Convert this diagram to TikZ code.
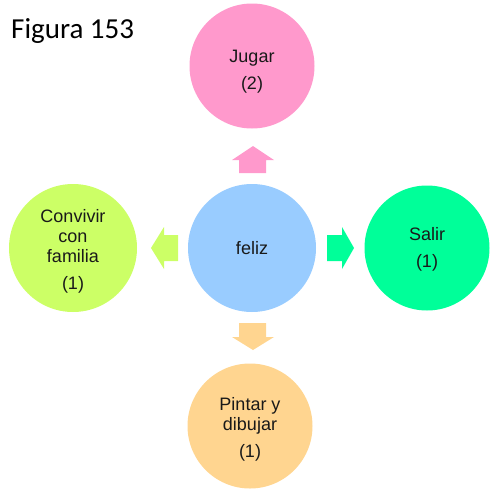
\documentclass[tikz,border=0pt]{standalone}
\usepackage{fontspec}
\setmainfont{Liberation Sans}
\newfontfamily\titlefont{Carlito}
\definecolor{cpink}{HTML}{FF99CC}
\definecolor{cblue}{HTML}{99CCFF}
\definecolor{clime}{HTML}{CCFF66}
\definecolor{cgreen}{HTML}{00FF99}
\definecolor{corange}{HTML}{FFD590}
\begin{document}
\begin{tikzpicture}[x=1pt,y=-1pt,
  bubble/.style={circle,inner sep=0pt,minimum size=125pt},
  btext/.style={inner sep=0pt,align=center,font=\fontsize{18}{20}\selectfont,text=black!90}]
\useasboundingbox (0,0) rectangle (490,490);
\node[anchor=base west,inner sep=0pt,font=\titlefont\fontsize{29}{32}\selectfont] (title) at (11,38) {Figura 153};
\node[bubble,fill=cblue,minimum size=128pt] (feliz) at (252,248) {};
\node[btext] (felizt) at (feliz) {feliz};
\node[bubble,fill=cpink] (jugar) at (252,66) {};
\node[btext,yshift=-6pt] (jugart) at (jugar) {Jugar\\[7pt](2)};
\node[bubble,fill=cgreen] (salir) at (427,248) {};
\node[btext,yshift=-1pt] (salirt) at (salir) {Salir\\[7pt](1)};
\node[bubble,fill=clime,minimum size=128pt] (conv) at (73,248) {};
\node[btext,yshift=-3pt] (convt) at (conv) {Convivir\\con\\familia\\[7pt](1)};
\node[bubble,fill=corange] (pintar) at (250,426) {};
\node[btext,yshift=-3pt] (pintart) at (pintar) {Pintar y\\dibujar\\[7pt](1)};
% up arrow
\fill[cpink] (239,173) -- (239,160) -- (232,160) -- (253,146) -- (274,160) -- (266,160) -- (266,173) -- cycle;
% down arrow
\fill[corange] (239,323) -- (239,337) -- (232,337) -- (253,350) -- (274,337) -- (266,337) -- (266,323) -- cycle;
% right arrow
\fill[cgreen] (327,235) -- (342,235) -- (342,227) -- (354,248) -- (342,269) -- (342,261) -- (327,261) -- cycle;
% left arrow
\fill[clime] (178,235) -- (164,235) -- (164,227) -- (151,248) -- (164,269) -- (164,261) -- (178,261) -- cycle;
\end{tikzpicture}
\end{document}
